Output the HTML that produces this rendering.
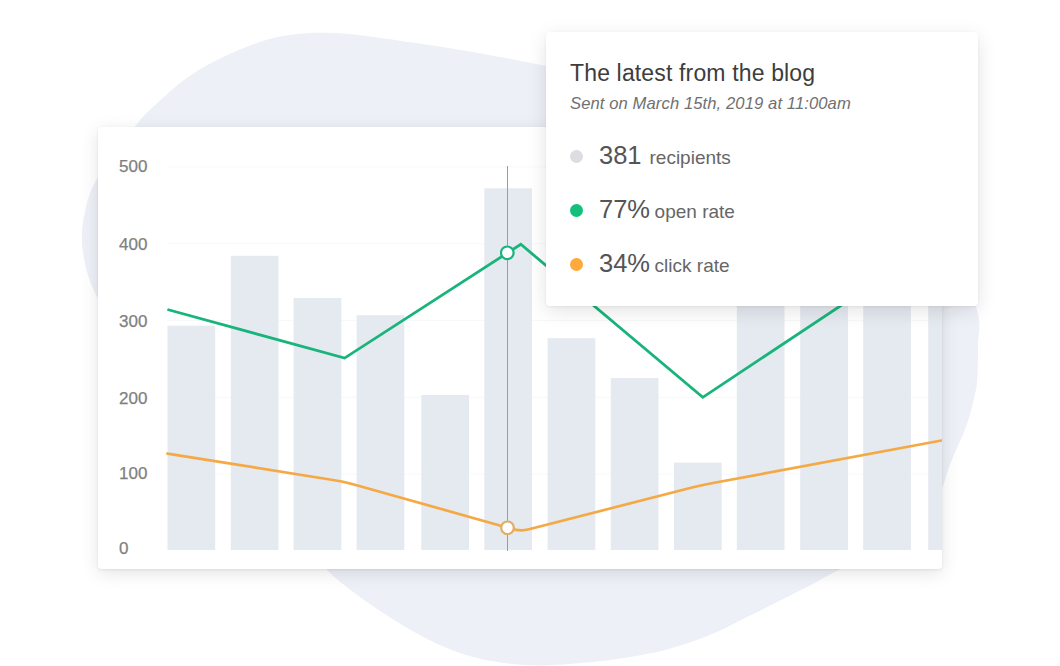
<!DOCTYPE html>
<html><head><meta charset="utf-8">
<style>
*{margin:0;padding:0;box-sizing:border-box}
html,body{width:1060px;height:666px;background:#fff;overflow:hidden}
body{position:relative;font-family:"Liberation Sans",sans-serif}
#bg{position:absolute;left:0;top:0}
.card{position:absolute;left:98px;top:126.5px;width:844px;height:442.3px;background:#fff;border-radius:3px;box-shadow:0 4px 18px rgba(0,0,0,0.11),0 1px 3px rgba(0,0,0,0.07);overflow:hidden}
.card svg{position:absolute;left:-98px;top:-126.5px}
.yl{position:absolute;left:21px;font-size:17px;color:#808080;-webkit-text-stroke:0.25px #808080;line-height:1}
.tip{position:absolute;left:546px;top:31.5px;width:432px;height:274.5px;background:#fff;border-radius:4px;box-shadow:0 5px 20px rgba(0,0,0,0.11),0 1px 3px rgba(0,0,0,0.06)}
.t1{position:absolute;left:24px;top:28px;font-size:23px;letter-spacing:0.15px;color:#3d3d3d;white-space:nowrap}
.t2{position:absolute;left:24px;top:62px;font-size:16.6px;letter-spacing:0.1px;color:#707070;font-style:italic;white-space:nowrap}
.row{position:absolute;left:24px;white-space:nowrap;color:#4a4a4a}
.dot{position:absolute;left:0;width:13px;height:13px;border-radius:50%}
.big{position:absolute;left:29px;top:-3px;font-size:25.5px;color:#555}
.sm{position:absolute;font-size:19px;color:#666}
</style></head><body>
<svg id="bg" width="1060" height="666" viewBox="0 0 1060 666"><path d="M328.0,32.7 C337.4,32.9 346.9,33.8 356.4,34.7 C365.8,35.7 375.3,37.1 384.7,38.4 C394.1,39.7 397.9,40.2 413.0,42.6 C428.1,45.0 455.0,48.9 475.5,52.5 C496.0,56.1 506.9,58.4 536.0,64.0 C565.1,69.6 609.3,76.3 650.0,86.0 C690.7,95.7 740.0,106.7 780.0,122.0 C820.0,137.3 861.7,158.3 890.0,178.0 C918.3,197.7 935.5,218.0 950.0,240.0 C964.5,262.0 972.3,292.5 977.0,310.0 C981.7,327.5 978.0,333.3 978.0,345.0 C978.0,356.7 977.9,371.2 977.2,380.0 C976.6,388.8 975.4,392.0 974.1,398.0 C972.8,404.0 971.4,410.0 969.6,416.0 C967.8,422.0 965.7,428.0 963.3,434.0 C960.9,440.0 957.8,446.0 955.2,452.0 C952.7,458.0 950.0,464.6 948.0,470.0 C946.0,475.4 945.8,479.0 943.5,484.5 C941.2,490.0 937.9,496.6 934.0,503.0 C930.1,509.4 928.2,515.5 920.0,523.0 C911.8,530.5 898.5,540.2 885.0,548.0 C871.5,555.8 852.1,563.2 838.7,569.9 C825.3,576.6 815.1,582.9 804.7,588.3 C794.3,593.7 785.8,597.8 776.4,602.5 C767.0,607.2 757.5,611.9 748.1,616.6 C738.7,621.3 729.2,626.5 719.8,630.8 C710.4,635.0 700.9,638.8 691.5,642.1 C682.1,645.4 672.6,648.2 663.2,650.6 C653.8,653.0 644.3,654.6 634.9,656.2 C625.5,657.9 616.0,659.3 606.6,660.5 C597.2,661.7 587.7,662.5 578.3,663.3 C568.9,664.1 557.9,664.9 550.0,665.2 C542.1,665.5 537.6,665.4 531.0,665.2 C524.4,665.0 517.9,664.6 510.5,663.8 C503.1,663.0 494.8,661.8 486.9,660.2 C479.0,658.6 471.2,656.8 463.3,654.3 C455.4,651.8 447.6,648.5 439.7,645.0 C431.8,641.5 423.9,637.3 416.0,633.0 C408.1,628.7 400.3,623.9 392.5,619.0 C384.7,614.1 376.9,609.1 369.0,603.6 C361.1,598.1 352.5,591.7 345.4,586.0 C338.3,580.3 334.1,577.1 326.5,569.4 C318.9,561.7 309.4,549.9 300.0,540.0 C290.6,530.1 286.7,526.7 270.0,510.0 C253.3,493.3 221.7,464.2 200.0,440.0 C178.3,415.8 154.3,384.7 140.0,365.0 C125.7,345.3 121.2,333.3 114.0,322.0 C106.8,310.7 101.7,306.0 97.0,297.0 C92.3,288.0 88.5,278.2 86.0,268.0 C83.5,257.8 81.6,246.8 81.8,236.0 C82.0,225.2 84.5,212.5 87.0,203.0 C89.5,193.5 91.7,188.0 97.0,179.0 C102.3,170.0 112.1,158.5 119.0,149.0 C125.9,139.5 131.9,129.7 138.5,121.9 C145.1,114.1 150.3,109.3 158.3,102.0 C166.3,94.7 177.2,84.8 186.6,78.0 C196.0,71.2 205.6,66.0 215.0,61.0 C224.4,56.0 233.6,52.1 243.0,48.3 C252.4,44.5 262.0,40.8 271.5,38.4 C281.0,36.0 290.6,34.8 300.0,33.8 C309.4,32.8 318.6,32.6 328.0,32.7Z" fill="#eef0f7"/></svg>
<div class="card">
<svg width="1060" height="666" viewBox="0 0 1060 666">
<g stroke="#f7f8f9" stroke-width="1">
<line x1="167" x2="942" y1="166.9" y2="166.9"/>
<line x1="167" x2="942" y1="243.7" y2="243.7"/>
<line x1="167" x2="942" y1="320.5" y2="320.5"/>
<line x1="167" x2="942" y1="397.3" y2="397.3"/>
<line x1="167" x2="942" y1="474.1" y2="474.1"/>
</g>
<g fill="#e5e9f0">
<rect x="167.5" y="325.7" width="47.7" height="224.3"/>
<rect x="230.8" y="255.8" width="47.7" height="294.2"/>
<rect x="293.6" y="298" width="47.7" height="252.0"/>
<rect x="356.6" y="315.2" width="47.7" height="234.8"/>
<rect x="421.3" y="395" width="47.7" height="155.0"/>
<rect x="484.3" y="188.3" width="47.7" height="361.7"/>
<rect x="547.6" y="338.2" width="47.7" height="211.8"/>
<rect x="610.8" y="378.1" width="47.7" height="171.9"/>
<rect x="674" y="462.6" width="47.7" height="87.4"/>
<rect x="736.8" y="250" width="47.7" height="300.0"/>
<rect x="800.2" y="250" width="47.7" height="300.0"/>
<rect x="863.2" y="250" width="47.7" height="300.0"/>
<rect x="928.2" y="250" width="47.7" height="300.0"/>
</g>
<line x1="507.5" x2="507.5" y1="166" y2="551" stroke="#9c9c9c" stroke-width="1"/>
<polyline points="167.4,309.5 344.6,358.1 520.8,244.3 702.8,397.3 880,279.6 960,226.5" fill="none" stroke="#19b47b" stroke-width="2.8" stroke-linejoin="miter"/>
<path d="M167.4,453.6 L333,480 Q343,481.4 353,484.2 L511,528.6 Q520,531.8 529,529.3 L692,487.5 Q702.5,485 713,483 L941.5,440.5" fill="none" stroke="#f5a945" stroke-width="2.7" stroke-linejoin="round" stroke-linecap="round"/>
<circle cx="507.3" cy="252.8" r="6.3" fill="#fff" stroke="#19b47b" stroke-width="2.2"/>
<circle cx="507.5" cy="527.8" r="6.3" fill="#fff" stroke="#deae6a" stroke-width="2.2"/>
</svg>
<div class="yl" style="top:31.9px">500</div>
<div class="yl" style="top:109.5px">400</div>
<div class="yl" style="top:186px">300</div>
<div class="yl" style="top:263.9px">200</div>
<div class="yl" style="top:338.6px">100</div>
<div class="yl" style="top:413.75px">0</div>
</div>
<div class="tip">
<div class="t1">The latest from the blog</div>
<div class="t2">Sent on March 15th, 2019 at 11:00am</div>
<div class="row" style="top:112px"><span class="dot" style="top:6px;background:#dcdde0"></span><span class="big">381</span><span class="sm" style="left:79.5px;top:3.5px">recipients</span></div>
<div class="row" style="top:166px"><span class="dot" style="top:6px;background:#14bf7b"></span><span class="big">77%</span><span class="sm" style="left:84.6px;top:3.5px">open rate</span></div>
<div class="row" style="top:220px"><span class="dot" style="top:6px;background:#fda93b"></span><span class="big">34%</span><span class="sm" style="left:84.6px;top:3.5px">click rate</span></div>
</div>
</body></html>
